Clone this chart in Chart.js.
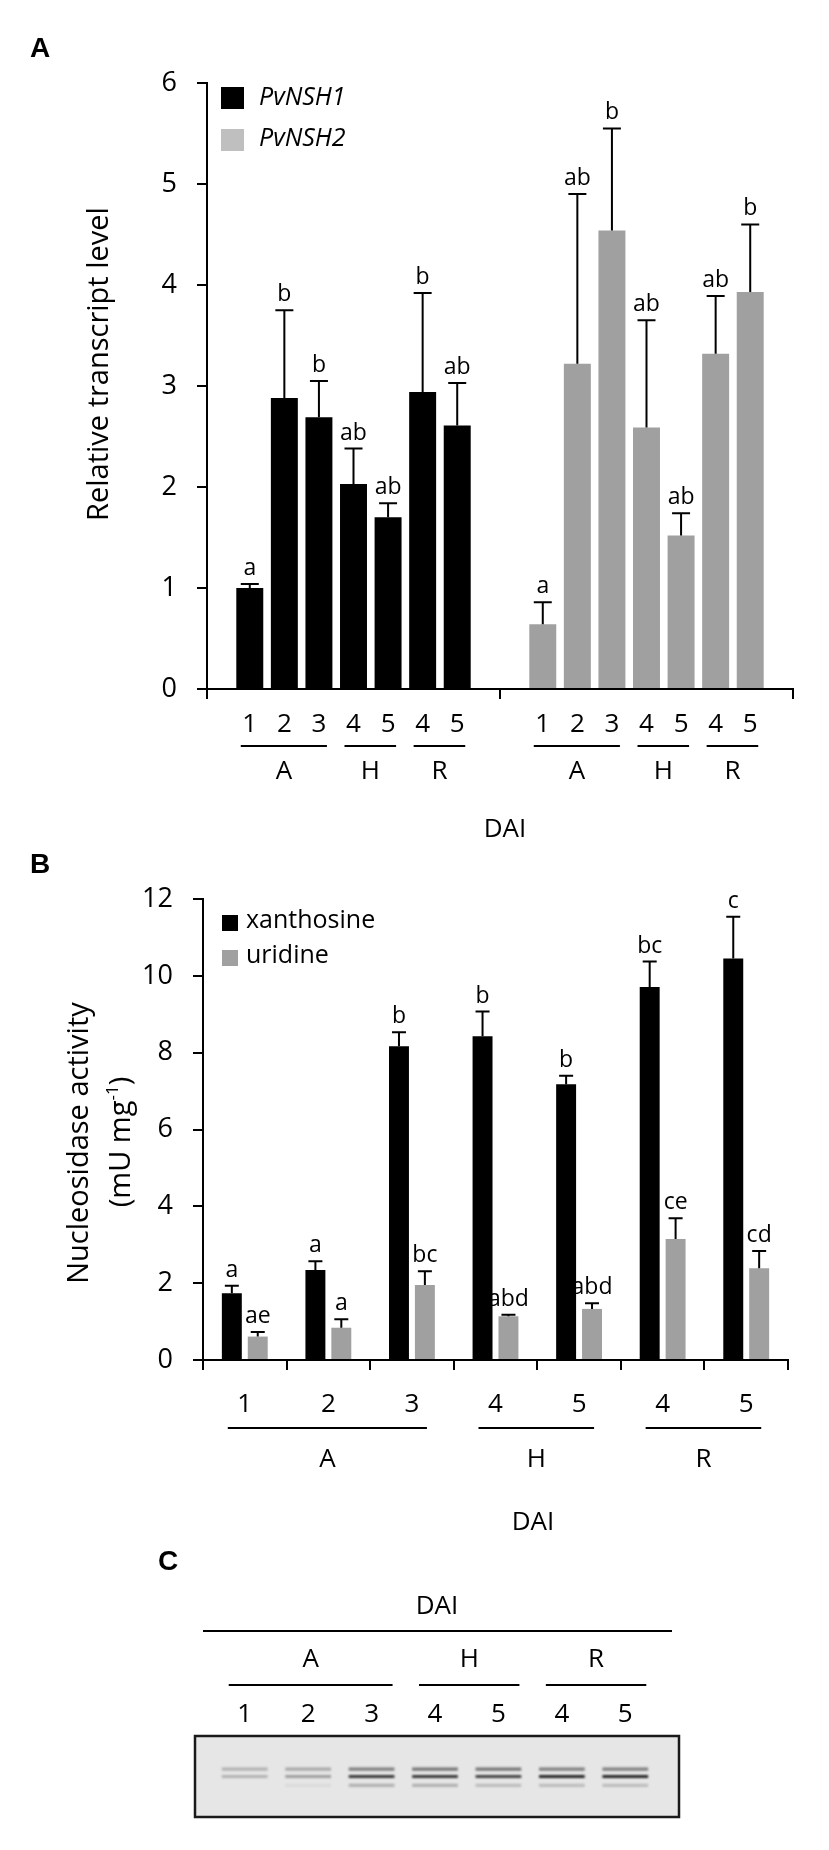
<!DOCTYPE html>
<html>
<head>
<meta charset="utf-8">
<script src="https://cdn.jsdelivr.net/npm/chart.js@4.4.1/dist/chart.umd.min.js"></script>
<style>
  html, body { margin: 0; padding: 0; background: #fff; }
  #page { position: relative; width: 829px; height: 1850px; }
  canvas { position: absolute; left: 0; }
</style>
</head>
<body>
<div id="page">
  <canvas id="chartA" width="829" height="850" style="top:0"></canvas>
  <canvas id="chartB" width="829" height="690" style="top:850px"></canvas>
  <canvas id="chartC" width="829" height="310" style="top:1540px"></canvas>
</div>
<script>
// ---- shared sample axis (days after inoculation) ----
const dai = ["1", "2", "3", "4", "5", "4", "5"];
const stageNames = ["A", "H", "R"];
const stageOf = [0, 0, 0, 1, 1, 2, 2];

// ---- panel A: relative transcript level ----
const genes = ["PvNSH1", "PvNSH2"];
const geneColors = ["#000000", "#a0a0a0"];
const nsh1Mean = [1.00, 2.88, 2.69, 2.03, 1.70, 2.94, 2.61];
const nsh1Err = [0.04, 0.87, 0.36, 0.35, 0.14, 0.98, 0.42];
const nsh1Letters = ["a", "b", "b", "ab", "ab", "b", "ab"];
const nsh2Mean = [0.64, 3.22, 4.54, 2.59, 1.52, 3.32, 3.93];
const nsh2Err = [0.22, 1.68, 1.01, 1.06, 0.22, 0.57, 0.67];
const nsh2Letters = ["a", "ab", "b", "ab", "ab", "ab", "b"];
const ticksA = [0, 1, 2, 3, 4, 5, 6];

// ---- panel B: nucleosidase activity ----
const substrates = ["xanthosine", "uridine"];
const substrateColors = ["#000000", "#a0a0a0"];
const xanMean = [1.74, 2.34, 8.17, 8.43, 7.18, 9.71, 10.45];
const xanErr = [0.19, 0.23, 0.36, 0.64, 0.22, 0.66, 1.09];
const xanLetters = ["a", "a", "b", "b", "b", "bc", "c"];
const uriMean = [0.61, 0.84, 1.95, 1.14, 1.33, 3.15, 2.39];
const uriErr = [0.12, 0.22, 0.36, 0.04, 0.15, 0.54, 0.45];
const uriLetters = ["ae", "a", "bc", "abd", "abd", "ce", "cd"];
const ticksB = [0, 2, 4, 6, 8, 10, 12];

// ---- panel C: gel, band migration (0 = top of gel, 10 = bottom) and intensity per lane ----
const bandPos = [4.1, 5.0, 6.1];
const bandUpper = [0.25, 0.30, 0.50, 0.55, 0.55, 0.50, 0.50];
const bandMain = [0.25, 0.35, 0.85, 0.85, 0.80, 0.95, 0.95];
const bandLower = [0.00, 0.05, 0.25, 0.25, 0.20, 0.20, 0.20];

const FONT = "'Open Sans', Lato, sans-serif";
const BOLD = "bold 28px 'Liberation Sans', Arial, sans-serif";
Chart.defaults.font.family = FONT;
Chart.defaults.color = "#000";

/* ── helpers ─────────────────────────────────────────────*/
function drawDaiAxis(ctx, xs, cfg) {
  ctx.save();
  ctx.fillStyle = "#000";
  ctx.textAlign = "center";
  ctx.textBaseline = "middle";
  ctx.font = cfg.font;
  xs.forEach((x, i) => ctx.fillText(dai[i], x, cfg.numY));
  stageNames.forEach((name, k) => {
    const idx = stageOf.map((s, i) => (s === k ? i : -1)).filter(i => i >= 0);
    const x0 = xs[idx[0]] - cfg.padL;
    const x1 = xs[idx[idx.length - 1]] + cfg.padR;
    ctx.fillRect(x0, cfg.lineY - 1, x1 - x0, 2);
    ctx.fillText(name, (x0 + x1) / 2, cfg.stageY);
  });
  ctx.restore();
}

function drawText(ctx, text, x, y, font, rotate) {
  ctx.save();
  ctx.fillStyle = "#000";
  ctx.font = font;
  ctx.textAlign = "center";
  ctx.textBaseline = "middle";
  ctx.translate(x, y);
  if (rotate) ctx.rotate(-Math.PI / 2);
  ctx.fillText(text, 0, 0);
  ctx.restore();
}

const errorBars = {
  id: "errorBars",
  afterDatasetsDraw(chart, args, opts) {
    const { ctx } = chart;
    const y = chart.scales.y;
    ctx.save();
    ctx.strokeStyle = "#000";
    ctx.fillStyle = "#000";
    ctx.lineWidth = opts.lineWidth;
    ctx.font = opts.font;
    ctx.textAlign = "center";
    ctx.textBaseline = "alphabetic";
    chart.data.datasets.forEach((ds, i) => {
      chart.getDatasetMeta(i).data.forEach((bar, j) => {
        const top = y.getPixelForValue(ds.data[j] + ds.errs[j]);
        ctx.beginPath();
        ctx.moveTo(bar.x, bar.y);
        ctx.lineTo(bar.x, top);
        ctx.moveTo(bar.x - opts.cap / 2, top);
        ctx.lineTo(bar.x + opts.cap / 2, top);
        ctx.stroke();
        ctx.fillText(ds.letters[j], bar.x, top - opts.gap);
      });
    });
    ctx.restore();
  }
};

function axisCommon(extra) {
  return Object.assign({
    grid: { drawOnChartArea: false, color: "#000", lineWidth: 2, tickLength: 10 },
    border: { color: "#000", width: 2 }
  }, extra);
}

/* ── Panel A ─────────────────────────────────────────────*/
const panelA = {
  id: "panelA",
  afterDraw(chart) {
    const { ctx } = chart;
    // bar centres, in sample order, for each gene
    const xsFor = g => dai.map((_, i) => chart.getDatasetMeta(i).data[g].x);
    genes.forEach((_, g) => drawDaiAxis(ctx, xsFor(g), {
      font: `26px ${FONT}`, numY: 725, lineY: 746, stageY: 772, padL: 9, padR: 8
    }));
    drawText(ctx, "DAI", 505, 830, `26px ${FONT}`);
    drawText(ctx, "Relative transcript level", 100, 364, `29px ${FONT}`, true);
    drawText(ctx, "A", 40, 49, BOLD);

    // legend
    ctx.save();
    ctx.font = `italic 25px ${FONT}`;
    ctx.textBaseline = "middle";
    genes.forEach((name, g) => {
      ctx.fillStyle = g === 0 ? geneColors[0] : "#bfbfbf";
      ctx.fillRect(221, 87 + g * 42, 23, 22);
      ctx.fillStyle = "#000";
      ctx.fillText(name, 259, 98 + g * 41);
    });
    ctx.restore();
  }
};

new Chart(document.getElementById("chartA"), {
  type: "bar",
  data: {
    labels: genes,
    datasets: dai.map((d, i) => ({
      label: stageNames[stageOf[i]] + d,
      data: [nsh1Mean[i], nsh2Mean[i]],
      errs: [nsh1Err[i], nsh2Err[i]],
      letters: [nsh1Letters[i], nsh2Letters[i]],
      backgroundColor: geneColors,
      categoryPercentage: 0.826,
      barPercentage: 0.78
    }))
  },
  options: {
    responsive: false,
    animation: false,
    devicePixelRatio: 1,
    layout: { padding: { left: 0, right: 36, top: 83, bottom: 0 } },
    plugins: {
      legend: { display: false },
      tooltip: { enabled: false },
      errorBars: { lineWidth: 2, cap: 18, gap: 9, font: `23px ${FONT}` }
    },
    scales: {
      x: axisCommon({
        ticks: { display: false },
        afterFit: s => { s.height = 161; }
      }),
      y: axisCommon({
        min: 0, max: 6,
        afterBuildTicks: s => { s.ticks = ticksA.map(v => ({ value: v })); },
        ticks: { font: { size: 27 }, padding: 20 },
        afterFit: s => { s.width = 207; }
      })
    }
  },
  plugins: [errorBars, panelA]
});

/* ── Panel B ─────────────────────────────────────────────*/
const panelB = {
  id: "panelB",
  afterDraw(chart) {
    const { ctx } = chart;
    const x = chart.scales.x;
    const xs = dai.map((_, i) => x.getPixelForValue(i));
    drawDaiAxis(ctx, xs, { font: `26px ${FONT}`, numY: 555, lineY: 578, stageY: 610, padL: 17, padR: 15 });
    drawText(ctx, "DAI", 533, 673, `26px ${FONT}`);
    drawText(ctx, "B", 40, 15, BOLD);
    drawText(ctx, "Nucleosidase activity", 80, 293, `29px ${FONT}`, true);

    // second title line with superscript
    ctx.save();
    ctx.translate(122, 292);
    ctx.rotate(-Math.PI / 2);
    ctx.fillStyle = "#000";
    ctx.textBaseline = "middle";
    const big = `29px ${FONT}`, small = `17px ${FONT}`;
    ctx.font = big;
    const w1 = ctx.measureText("(mU mg").width, w3 = ctx.measureText(")").width;
    ctx.font = small;
    const w2 = ctx.measureText("-1").width;
    let cx = -(w1 + w2 + w3) / 2;
    ctx.font = big; ctx.fillText("(mU mg", cx, 0); cx += w1;
    ctx.font = small; ctx.fillText("-1", cx, -9); cx += w2;
    ctx.font = big; ctx.fillText(")", cx, 0);
    ctx.restore();

    // legend
    ctx.save();
    ctx.font = `25px ${FONT}`;
    ctx.textBaseline = "middle";
    substrates.forEach((name, k) => {
      ctx.fillStyle = substrateColors[k];
      ctx.fillRect(222, 65 + k * 35, 16, 16);
      ctx.fillStyle = "#000";
      ctx.fillText(name, 246, 71 + k * 35);
    });
    ctx.restore();
  }
};

new Chart(document.getElementById("chartB"), {
  type: "bar",
  data: {
    labels: dai,
    datasets: [
      { label: substrates[0], data: xanMean, errs: xanErr, letters: xanLetters, backgroundColor: substrateColors[0] },
      { label: substrates[1], data: uriMean, errs: uriErr, letters: uriLetters, backgroundColor: substrateColors[1] }
    ]
  },
  options: {
    responsive: false,
    animation: false,
    devicePixelRatio: 1,
    datasets: { bar: { categoryPercentage: 0.62, barPercentage: 0.77 } },
    layout: { padding: { left: 0, right: 41, top: 49, bottom: 0 } },
    plugins: {
      legend: { display: false },
      tooltip: { enabled: false },
      errorBars: { lineWidth: 2, cap: 14, gap: 9, font: `23px ${FONT}` }
    },
    scales: {
      x: axisCommon({
        ticks: { display: false },
        afterFit: s => { s.height = 180; }
      }),
      y: axisCommon({
        min: 0, max: 12,
        afterBuildTicks: s => { s.ticks = ticksB.map(v => ({ value: v })); },
        ticks: { font: { size: 27 }, padding: 20 },
        afterFit: s => { s.width = 203; }
      })
    }
  },
  plugins: [errorBars, panelB]
});

/* ── Panel C: gel ────────────────────────────────────────*/
const gel = {
  id: "gel",
  beforeDatasetsDraw(chart) {
    const { ctx, chartArea: a } = chart;
    ctx.save();
    ctx.fillStyle = "#e6e6e6";
    ctx.fillRect(a.left - 18, a.top, a.width + 40, a.height);
    ctx.restore();
    ctx.save();
    ctx.filter = "blur(0.8px)";
  },
  afterDatasetsDraw(chart) {
    const { ctx, chartArea: a } = chart;
    ctx.restore();
    ctx.save();
    ctx.strokeStyle = "#1a1a1a";
    ctx.lineWidth = 2.5;
    ctx.strokeRect(a.left - 18, a.top, a.width + 40, a.height);
    ctx.restore();
  },
  afterDraw(chart) {
    const { ctx } = chart;
    const x = chart.scales.x;
    const xs = dai.map((_, i) => x.getPixelForValue(i));
    drawDaiAxis(ctx, xs, { font: `26px ${FONT}`, numY: 175, lineY: 145, stageY: 120, padL: 16, padR: 21 });
    drawText(ctx, "DAI", 437, 67, `26px ${FONT}`);
    ctx.fillRect(203, 90, 469, 2);
    drawText(ctx, "C", 168, 22, BOLD);
  }
};

const bandSet = (pos, alpha) => ({
  data: dai.map(() => [pos - 0.2, pos + 0.2]),
  backgroundColor: alpha.map(v => `rgba(25,25,25,${v})`)
});

new Chart(document.getElementById("chartC"), {
  type: "bar",
  data: {
    labels: dai,
    datasets: [bandSet(bandPos[0], bandUpper), bandSet(bandPos[1], bandMain), bandSet(bandPos[2], bandLower)]
  },
  options: {
    responsive: false,
    animation: false,
    devicePixelRatio: 1,
    datasets: { bar: { grouped: false, categoryPercentage: 0.72, barPercentage: 1 } },
    layout: { padding: { left: 213, right: 172, top: 196, bottom: 33 } },
    plugins: { legend: { display: false }, tooltip: { enabled: false } },
    scales: {
      x: { display: false },
      y: { display: false, min: 0, max: 10, reverse: true }
    }
  },
  plugins: [gel]
});
</script>
</body>
</html>
